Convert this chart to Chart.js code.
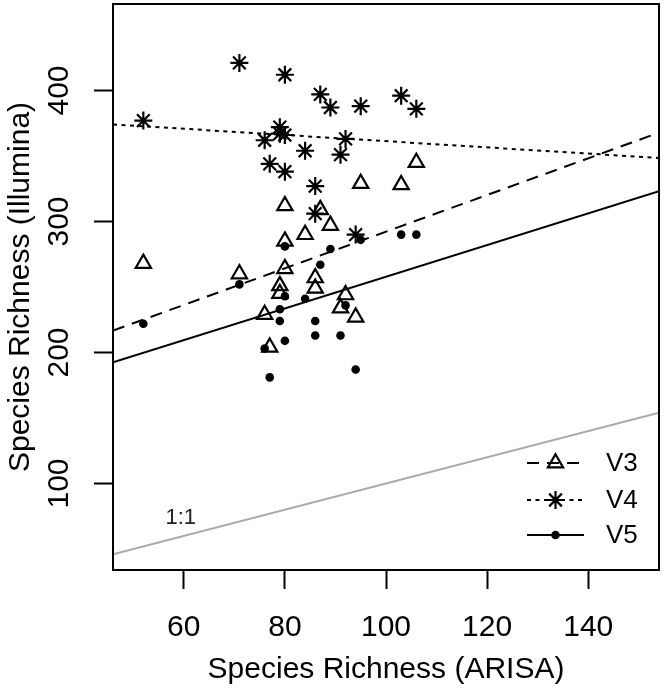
<!DOCTYPE html>
<html><head><meta charset="utf-8">
<script src="https://cdn.jsdelivr.net/npm/chart.js@4/dist/chart.umd.min.js"></script>
<style>html,body{margin:0;padding:0;background:#fff}#wrap{width:666px;height:690px}</style>
</head><body><div id="wrap"><canvas id="c" width="666" height="690"></canvas></div>
<script>
// ---- data ----
const seriesNames = ['V3', 'V4', 'V5'];
const v3x = [106, 95, 103, 80, 87, 89, 84, 80, 80, 71, 86, 79, 86, 79, 92, 91, 94, 76, 77, 52];
const v3y = [345, 329, 328, 312, 309, 297, 290, 285, 264, 260, 257, 251, 249, 245, 244, 234, 227, 229, 204, 268];
const v4x = [52, 71, 80, 87, 89, 95, 103, 106, 79, 76, 80, 79, 92, 84, 91, 77, 80, 86, 86, 94];
const v4y = [377, 421, 412, 397, 387, 388, 396, 386, 372, 362, 366, 367, 363, 354, 351, 344, 338, 327, 306, 290];
const v5x = [80, 89, 95, 103, 106, 87, 71, 80, 84, 79, 92, 79, 86, 86, 91, 80, 76, 94, 77, 52];
const v5y = [281, 279, 286, 290, 290, 267, 252, 243, 241, 233, 236, 224, 224, 213, 213, 209, 203, 187, 181, 222];
// fitted lines (end points at the axis limits)
const fitX = [46, 154];
const fitV3 = [216.7, 367.8];
const fitV4 = [374.1, 348.5];
const fitV5 = [192.6, 323.1];
const oneToOneX = [46, 154];
const oneToOneY = [46, 154];
const oneToOneLabel = '1:1';
const xTicks = [60, 80, 100, 120, 140];
const yTicks = [100, 200, 300, 400];
const xLimits = [46, 154];
const yLimits = [34, 466];
const xTitle = 'Species Richness (ARISA)';
const yTitle = 'Species Richness (Illumina)';

// ---- chart ----
const FONT = '"Liberation Sans", Arial, Helvetica, sans-serif';
Chart.defaults.font.family = FONT;
Chart.defaults.color = '#000';

const pts = (xs, ys) => xs.map((x, i) => ({x: x, y: ys[i]}));

const styles = [
  {pointStyle: 'triangle', radius: 8.8, fill: 'rgba(0,0,0,0)', dash: [12, 8]},
  {pointStyle: 'star', radius: 9, fill: 'rgba(0,0,0,0)', dash: [4, 4.5]},
  {pointStyle: 'circle', radius: 4.3, fill: '#000', dash: []}
];
const xs = [v3x, v4x, v5x], ys = [v3y, v4y, v5y], fits = [fitV3, fitV4, fitV5];

const datasets = [];
seriesNames.forEach((name, i) => {
  datasets.push({
    label: name, data: pts(xs[i], ys[i]), showLine: false,
    pointStyle: styles[i].pointStyle, pointRadius: styles[i].radius,
    pointBackgroundColor: styles[i].fill, pointBorderColor: '#000',
    pointBorderWidth: i === 2 ? 0 : 2.2
  });
});
seriesNames.forEach((name, i) => {
  datasets.push({
    label: name + ' fit', data: pts(fitX, fits[i]), showLine: true,
    borderColor: '#000', borderWidth: 2, borderDash: styles[i].dash,
    pointRadius: 0, fill: false
  });
});
datasets.push({
  label: '1:1', data: pts(oneToOneX, oneToOneY), showLine: true,
  borderColor: '#aaaaaa', borderWidth: 2, pointRadius: 0, fill: false
});

function drawSymbol(ctx, style, r, x, y) {
  ctx.save();
  ctx.lineWidth = 2.2; ctx.strokeStyle = '#000'; ctx.fillStyle = '#000';
  ctx.setLineDash([]);
  ctx.beginPath();
  if (style === 'triangle') {
    for (let k = 0; k < 3; k++) {
      const a = k * 2 * Math.PI / 3;
      const px = x + Math.sin(a) * r, py = y - Math.cos(a) * r;
      if (k === 0) ctx.moveTo(px, py); else ctx.lineTo(px, py);
    }
    ctx.closePath(); ctx.stroke();
  } else if (style === 'star') {
    for (let k = 0; k < 4; k++) {
      const a = k * Math.PI / 4;
      ctx.moveTo(x - Math.cos(a) * r, y - Math.sin(a) * r);
      ctx.lineTo(x + Math.cos(a) * r, y + Math.sin(a) * r);
    }
    ctx.stroke();
  } else {
    ctx.arc(x, y, r, 0, Math.PI * 2); ctx.fill();
  }
  ctx.restore();
}

const boxPlugin = {
  id: 'rbox',
  afterDraw(chart) {
    const {ctx, chartArea: a} = chart;
    ctx.save();
    ctx.strokeStyle = '#000'; ctx.lineWidth = 2;
    ctx.strokeRect(a.left, a.top, a.right - a.left, a.bottom - a.top);
    // 1:1 label
    const sx = chart.scales.x, sy = chart.scales.y;
    ctx.fillStyle = '#222';
    ctx.font = '22px ' + FONT;
    ctx.textAlign = 'center'; ctx.textBaseline = 'middle';
    ctx.fillText(oneToOneLabel, sx.getPixelForValue(59.4), sy.getPixelForValue(74));
    // legend
    const rows = [463, 500, 535];
    seriesNames.forEach((name, i) => {
      const y = rows[i];
      ctx.save();
      ctx.strokeStyle = '#000'; ctx.lineWidth = 2; ctx.setLineDash(styles[i].dash);
      ctx.beginPath(); ctx.moveTo(527, y); ctx.lineTo(584, y); ctx.stroke();
      ctx.restore();
      drawSymbol(ctx, styles[i].pointStyle, styles[i].radius, 555.5, y);
      ctx.fillStyle = '#000';
      ctx.font = '26px ' + FONT;
      ctx.textAlign = 'left'; ctx.textBaseline = 'middle';
      ctx.fillText(name, 606, y + 1);
    });
    ctx.restore();
  }
};

new Chart(document.getElementById('c'), {
  type: 'scatter',
  data: {datasets: datasets},
  plugins: [boxPlugin],
  options: {
    responsive: false, animation: false, devicePixelRatio: 1, events: [],
    layout: {autoPadding: false, padding: {top: 4, right: 7, left: 0, bottom: 0}},
    plugins: {legend: {display: false}, tooltip: {enabled: false}},
    scales: {
      x: {
        type: 'linear', min: xLimits[0], max: xLimits[1],
        afterBuildTicks: s => { s.ticks = xTicks.map(v => ({value: v})); },
        afterFit: s => { s.height = 120; s.paddingLeft = 0; s.paddingRight = 0; },
        grid: {drawOnChartArea: false, drawTicks: true, tickLength: 19, tickWidth: 2, tickColor: '#000'},
        border: {display: false},
        ticks: {font: {size: 30}, color: '#000', padding: 21, maxRotation: 0, autoSkip: false},
        title: {display: true, text: xTitle, font: {size: 30}, color: '#000', padding: {top: 0, bottom: 2}}
      },
      y: {
        type: 'linear', min: yLimits[0], max: yLimits[1],
        afterBuildTicks: s => { s.ticks = yTicks.map(v => ({value: v})); },
        afterFit: s => { s.width = 113; s.paddingTop = 0; s.paddingBottom = 0; },
        grid: {drawOnChartArea: false, drawTicks: true, tickLength: 19, tickWidth: 2, tickColor: '#000'},
        border: {display: false},
        ticks: {font: {size: 30}, color: '#000', padding: 9, minRotation: 90, maxRotation: 90, crossAlign: 'center', autoSkip: false},
        title: {display: true, text: yTitle, font: {size: 30}, color: '#000', padding: {top: 3, bottom: 0}}
      }
    }
  }
});
</script></body></html>
